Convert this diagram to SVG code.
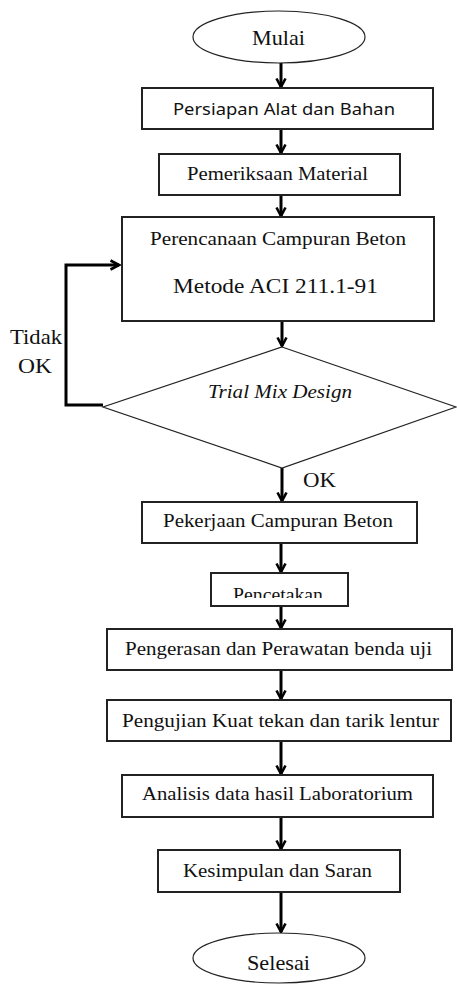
<svg xmlns="http://www.w3.org/2000/svg" width="457" height="985" viewBox="0 0 457 985">
<style>
.box{fill:#fff;stroke:#222;stroke-width:2}
.term{fill:#fff;stroke:#222;stroke-width:1.2}
.t{font-family:"Liberation Serif","Times New Roman",serif;fill:#111;text-anchor:middle}
.s{font-family:"Noto Sans","Liberation Sans",sans-serif;fill:#111;text-anchor:middle}
.c{fill:none;stroke:#000;stroke-width:3}
</style>
<defs>
<marker id="ah" viewBox="0 0 12 12" refX="10" refY="6" markerWidth="12" markerHeight="12" markerUnits="userSpaceOnUse" orient="auto">
<path d="M1.5,1.5 L10,6 L1.5,10.5" fill="none" stroke="#000" stroke-width="2.6"/>
</marker>
<clipPath id="clipP"><rect x="212" y="574" width="135" height="24"/></clipPath>
</defs>
<g id="connectors">
<line class="c" x1="281" y1="63" x2="281" y2="87" marker-end="url(#ah)"/>
<line class="c" x1="281" y1="129" x2="281" y2="153" marker-end="url(#ah)"/>
<line class="c" x1="281" y1="195" x2="281" y2="216" marker-end="url(#ah)"/>
<line class="c" x1="282" y1="321" x2="282" y2="346" marker-end="url(#ah)"/>
<line class="c" x1="282" y1="468" x2="282" y2="501" marker-end="url(#ah)"/>
<line class="c" x1="281" y1="543" x2="281" y2="572" marker-end="url(#ah)"/>
<line class="c" x1="281" y1="606" x2="281" y2="628" marker-end="url(#ah)"/>
<line class="c" x1="281" y1="670" x2="281" y2="699" marker-end="url(#ah)"/>
<line class="c" x1="281" y1="741" x2="281" y2="774" marker-end="url(#ah)"/>
<line class="c" x1="281" y1="817" x2="281" y2="849" marker-end="url(#ah)"/>
<line class="c" x1="281" y1="892" x2="281" y2="932" marker-end="url(#ah)"/>
<path class="c" d="M103,405 L66,405 L66,265 L119,265" marker-end="url(#ah)"/>
<text class="t" x="10" y="344" font-size="22" text-anchor="start" textLength="52" lengthAdjust="spacingAndGlyphs" style="text-anchor:start">Tidak</text>
<text class="t" x="18" y="373" font-size="22" textLength="34" lengthAdjust="spacingAndGlyphs" style="text-anchor:start">OK</text>
<text class="t" x="303" y="487" font-size="22" textLength="33" lengthAdjust="spacingAndGlyphs" style="text-anchor:start">OK</text>
</g>
<g id="mulai">
<ellipse class="term" cx="279" cy="37" rx="86" ry="26"/>
<text class="t" x="278.5" y="45" font-size="22" textLength="53" lengthAdjust="spacingAndGlyphs">Mulai</text>
</g>
<g id="persiapan">
<rect class="box" x="142" y="88" width="291" height="41"/>
<text class="s" x="284" y="115" font-size="17" textLength="222" lengthAdjust="spacingAndGlyphs">Persiapan Alat dan Bahan</text>
</g>
<g id="pemeriksaan">
<rect class="box" x="159" y="154" width="241" height="41"/>
<text class="t" x="277.5" y="180" font-size="19" textLength="181" lengthAdjust="spacingAndGlyphs">Pemeriksaan Material</text>
</g>
<g id="perencanaan">
<rect class="box" x="122" y="217" width="312" height="104"/>
<text class="t" x="278" y="245" font-size="18" textLength="256" lengthAdjust="spacingAndGlyphs">Perencanaan Campuran Beton</text>
<text class="t" x="275.5" y="293" font-size="22" textLength="205" lengthAdjust="spacingAndGlyphs">Metode ACI 211.1-91</text>
</g>
<g id="trial">
<polygon class="term" points="282,347 456,407 282,468 103,407"/>
<text class="t" x="280" y="398" font-size="19" font-style="italic" textLength="144" lengthAdjust="spacingAndGlyphs">Trial Mix Design</text>
</g>
<g id="pekerjaan">
<rect class="box" x="142" y="502" width="275" height="41"/>
<text class="t" x="278" y="527" font-size="18" textLength="230" lengthAdjust="spacingAndGlyphs">Pekerjaan Campuran Beton</text>
</g>
<g id="pencetakan">
<rect class="box" x="211" y="573" width="137" height="33"/>
<text class="t" x="278" y="601" font-size="18" textLength="90" lengthAdjust="spacingAndGlyphs" clip-path="url(#clipP)">Pencetakan</text>
</g>
<g id="pengerasan">
<rect class="box" x="107" y="629" width="345" height="41"/>
<text class="t" x="278.5" y="655" font-size="18" textLength="307" lengthAdjust="spacingAndGlyphs">Pengerasan dan Perawatan benda uji</text>
</g>
<g id="pengujian">
<rect class="box" x="107" y="700" width="344" height="41"/>
<text class="t" x="280.5" y="727" font-size="18" textLength="317" lengthAdjust="spacingAndGlyphs">Pengujian Kuat tekan dan tarik lentur</text>
</g>
<g id="analisis">
<rect class="box" x="122" y="775" width="311" height="42"/>
<text class="t" x="277.5" y="800" font-size="18" textLength="271" lengthAdjust="spacingAndGlyphs">Analisis data hasil Laboratorium</text>
</g>
<g id="kesimpulan">
<rect class="box" x="158" y="850" width="242" height="42"/>
<text class="t" x="277.5" y="877" font-size="18" textLength="189" lengthAdjust="spacingAndGlyphs">Kesimpulan dan Saran</text>
</g>
<g id="selesai">
<ellipse class="term" cx="279" cy="958" rx="86" ry="25"/>
<text class="t" x="278.5" y="970" font-size="22" textLength="63" lengthAdjust="spacingAndGlyphs">Selesai</text>
</g>
</svg>
